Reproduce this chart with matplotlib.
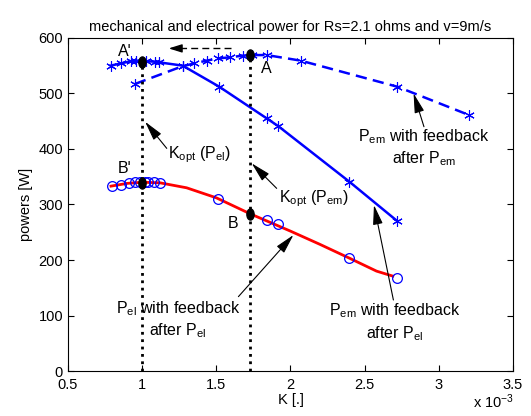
import matplotlib.pyplot as plt
from matplotlib.markers import MarkerStyle
from matplotlib.transforms import Affine2D

plt.rcParams['font.family'] = ['Liberation Sans', 'DejaVu Sans']
plt.rcParams['mathtext.fontset'] = 'custom'
plt.rcParams['mathtext.rm'] = 'Liberation Sans'
plt.rcParams['mathtext.it'] = 'Liberation Sans'

# K values in units of 1e-3
# Pem with feedback after Pel (solid blue, stars)
k_em_el = [0.788, 0.857, 0.923, 0.959, 1.026, 1.089, 1.112, 1.273, 1.520, 1.840, 1.918, 2.397, 2.716]
p_em_el = [550, 554, 558, 559, 558, 557, 556, 550, 512, 455, 441, 341, 271]

# Pem with feedback after Pem (dashed blue, stars)
k_em_em = [0.952, 1.273, 1.352, 1.435, 1.514, 1.592, 1.678, 1.739, 1.840, 2.069, 2.721, 3.204]
p_em_em = [517, 549, 554, 559, 563, 565, 568, 569, 569, 559, 512, 461]

# Pel theoretical curve (red)
k_el_line = [0.79, 0.9, 1.0, 1.12, 1.3, 1.5, 1.73, 2.0, 2.2, 2.4, 2.58, 2.69]
p_el_line = [333, 338, 340, 339, 330, 312, 283, 252, 228, 203, 180, 171]

# Pel with feedback after Pel (circles)
k_el_fb = [0.794, 0.857, 0.913, 0.952, 0.985, 1.019, 1.041, 1.080, 1.120, 1.514, 1.840, 1.918, 2.397, 2.720]
p_el_fb = [333, 335, 338, 340, 341, 341, 340, 340, 338, 310, 272, 265, 203, 168]

# optimum points
k_opt = [1.0, 1.73]
p_opt_em = [557, 569]
p_opt_el = [338, 283]

fig = plt.figure(figsize=(5.31, 4.16), dpi=100)
ax = fig.add_axes([0.128, 0.108, 0.838, 0.801])

star = (6, 2, 0)
ax.plot(k_el_line, p_el_line, color='red', lw=2)
ax.plot(k_em_el, p_em_el, color='blue', lw=1.8, marker=star, ms=7.5, mew=0.8)
ax.plot(k_em_em, p_em_em, color='blue', lw=1.8, ls=(0, (4.5, 2.5)), marker=star, ms=7.5, mew=0.8)
ax.plot(k_el_fb, p_el_fb, ls='none', marker='o', ms=7, mfc='none', mec='blue', mew=0.9)

# vertical dotted lines at optimum K
for k, p in zip(k_opt, p_opt_em):
    ax.plot([k, k], [0, p], color='k', ls=':', lw=2)

dot = MarkerStyle('o', transform=Affine2D().scale(0.65, 1.0))
ax.plot(k_opt, p_opt_em, ls='none', marker=dot, ms=8, color='k')
ax.plot(k_opt, p_opt_el, ls='none', marker=dot, ms=8, color='k')

# horizontal dashed arrow A -> A'
ax.plot([1.6, 1.2], [581, 581], color='k', ls=(0, (5, 3)), lw=1)
ax.annotate('', xy=(1.16, 581), xytext=(1.24, 581),
            arrowprops=dict(arrowstyle='-|>,head_length=0.8,head_width=0.25', color='k', lw=1))

fs = 11.5
ax.text(0.884, 576, "A'", fontsize=fs, ha='center', va='center')
ax.text(1.84, 545, "A", fontsize=fs, ha='center', va='center')
ax.text(0.884, 365, "B'", fontsize=fs, ha='center', va='center')
ax.text(1.615, 266, "B", fontsize=fs, ha='center', va='center')

arw = dict(arrowstyle='-|>,head_length=1.2,head_width=0.3', color='k', lw=0.8, shrinkA=0, shrinkB=0)

ax.annotate('', xy=(1.02, 449), xytext=(1.166, 401), arrowprops=arw)
ax.text(1.39, 389, r'$\mathregular{K_{opt}}$ $\mathregular{(P_{el})}$', fontsize=fs, ha='center', va='center')

ax.annotate('', xy=(1.739, 374), xytext=(1.907, 329), arrowprops=arw)
ax.text(2.16, 310, r'$\mathregular{K_{opt}}$ $\mathregular{(P_{em})}$', fontsize=fs, ha='center', va='center')

ax.annotate('', xy=(2.83, 500), xytext=(2.90, 440), arrowprops=arw)
ax.text(2.90, 402, '$\\mathregular{P_{em}}$ with feedback\nafter $\\mathregular{P_{em}}$',
        fontsize=fs, ha='center', va='center', linespacing=1.25)

ax.annotate('', xy=(2.563, 299), xytext=(2.694, 128), arrowprops=arw)
ax.text(2.705, 88, '$\\mathregular{P_{em}}$ with feedback\nafter $\\mathregular{P_{el}}$',
        fontsize=fs, ha='center', va='center', linespacing=1.25)

ax.annotate('', xy=(2.02, 245), xytext=(1.649, 134), arrowprops=arw)
ax.text(1.242, 92, '$\\mathregular{P_{el}}$ with feedback\nafter $\\mathregular{P_{el}}$',
        fontsize=fs, ha='center', va='center', linespacing=1.25)

ax.set_xlim(0.5, 3.5)
ax.set_ylim(0, 600)
ax.set_xticks([0.5, 1, 1.5, 2, 2.5, 3, 3.5])
ax.set_xticklabels(['0.5', '1', '1.5', '2', '2.5', '3', '3.5'])
ax.set_yticks(range(0, 601, 100))
ax.tick_params(direction='in', top=True, right=True, labelsize=10.5, length=4)
ax.tick_params(axis='x', pad=5)
ax.set_xlabel('K [.]', fontsize=10.5, labelpad=1)
ax.set_ylabel('powers [W]', fontsize=10.5, labelpad=4)
ax.set_title('mechanical and electrical power for Rs=2.1 ohms and v=9m/s', fontsize=10.5, pad=5)
fig.text(0.93, 0.02, r'x $\mathregular{10^{-3}}$', fontsize=10.5, ha='center')

fig.savefig('out.png', dpi=100)
